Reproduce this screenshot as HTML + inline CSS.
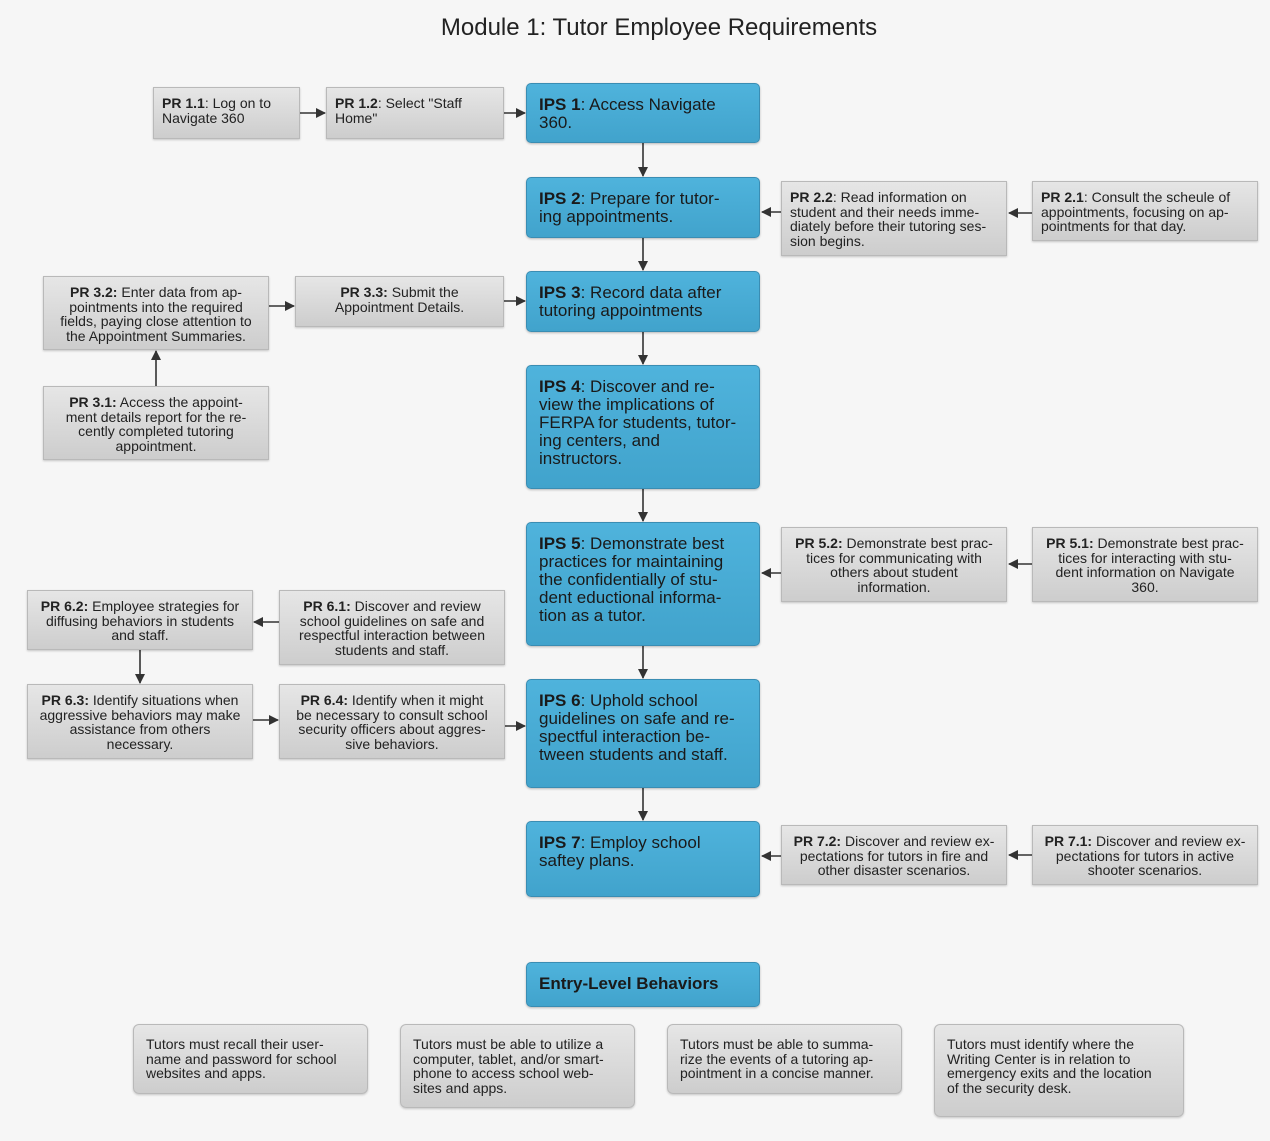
<!DOCTYPE html>
<html><head><meta charset="utf-8"><style>
*{margin:0;padding:0;box-sizing:border-box}
body{width:1270px;height:1141px;background:#f6f6f6;position:relative;font-family:"Liberation Sans",sans-serif;color:#222;overflow:hidden}
.t{position:absolute;left:0;width:1270px;top:14px;text-align:center;font-size:24px;color:#222;padding-left:48px}
.b{position:absolute;background:linear-gradient(#4fb3dc,#41a3cc);border:1px solid #3a8db3;border-radius:5px;font-size:17px;line-height:18px;padding:12px 12px;color:#1a1a1a;box-shadow:0 1px 2px rgba(0,0,0,.25)}
.g{position:absolute;background:linear-gradient(#e6e6e6,#cdcdcd);border:1px solid #b9b9b9;font-size:14px;line-height:14.7px;padding:8px 8px;color:#222;box-shadow:0 1px 2px rgba(0,0,0,.2)}
.c{text-align:center}
.r{border-radius:6px;padding:12px 12px}
svg{position:absolute;left:0;top:0}
</style></head><body>
<div class="t">Module 1: Tutor Employee Requirements</div>
<svg width="1270" height="1141"><defs><marker id="a" markerWidth="10" markerHeight="10" refX="9" refY="5" orient="auto" markerUnits="userSpaceOnUse"><path d="M0,0 L10,5 L0,10z" fill="#333"/></marker></defs>
<g stroke="#333" stroke-width="1.6" marker-end="url(#a)">
<line x1="300" y1="113" x2="325" y2="113"/>
<line x1="504" y1="113" x2="525" y2="113"/>
<line x1="643" y1="143" x2="643" y2="176"/>
<line x1="643" y1="238" x2="643" y2="270"/>
<line x1="643" y1="332" x2="643" y2="364"/>
<line x1="643" y1="489" x2="643" y2="521"/>
<line x1="643" y1="646" x2="643" y2="678"/>
<line x1="643" y1="788" x2="643" y2="820"/>
<line x1="781" y1="212" x2="762" y2="212"/>
<line x1="1032" y1="213" x2="1009" y2="213"/>
<line x1="269" y1="306" x2="294" y2="306"/>
<line x1="504" y1="301" x2="525" y2="301"/>
<line x1="156" y1="386" x2="156" y2="351"/>
<line x1="781" y1="573" x2="762" y2="573"/>
<line x1="1032" y1="564" x2="1009" y2="564"/>
<line x1="279" y1="622" x2="254" y2="622"/>
<line x1="140" y1="650" x2="140" y2="683"/>
<line x1="253" y1="720" x2="278" y2="720"/>
<line x1="505" y1="726" x2="525" y2="726"/>
<line x1="781" y1="856" x2="762" y2="856"/>
<line x1="1032" y1="855" x2="1009" y2="855"/>
</g></svg>
<div class="g" style="left:153px;top:87px;width:147px;height:52px"><b>PR 1.1</b>: Log on to<br>Navigate 360</div>
<div class="g" style="left:326px;top:87px;width:178px;height:52px"><b>PR 1.2</b>: Select "Staff<br>Home"</div>
<div class="b" style="left:526px;top:83px;width:234px;height:60px"><b>IPS 1</b>: Access Navigate<br>360.</div>
<div class="b" style="left:526px;top:177px;width:234px;height:61px"><b>IPS 2</b>: Prepare for tutor-<br>ing appointments.</div>
<div class="g" style="left:781px;top:181px;width:226px;height:75px"><b>PR 2.2</b>: Read information on<br>student and their needs imme-<br>diately before their tutoring ses-<br>sion begins.</div>
<div class="g" style="left:1032px;top:181px;width:226px;height:60px"><b>PR 2.1</b>: Consult the scheule of<br>appointments, focusing on ap-<br>pointments for that day.</div>
<div class="g c" style="left:43px;top:276px;width:226px;height:74px"><b>PR 3.2:</b> Enter data from ap-<br>pointments into the required<br>fields, paying close attention to<br>the Appointment Summaries.</div>
<div class="g c" style="left:295px;top:276px;width:209px;height:51px"><b>PR 3.3:</b> Submit the<br>Appointment Details.</div>
<div class="b" style="left:526px;top:271px;width:234px;height:61px"><b>IPS 3</b>: Record data after<br>tutoring appointments</div>
<div class="g c" style="left:43px;top:386px;width:226px;height:74px"><b>PR 3.1:</b> Access the appoint-<br>ment details report for the re-<br>cently completed tutoring<br>appointment.</div>
<div class="b" style="left:526px;top:365px;width:234px;height:124px"><b>IPS 4</b>: Discover and re-<br>view the implications of<br>FERPA for students, tutor-<br>ing centers, and<br>instructors.</div>
<div class="b" style="left:526px;top:522px;width:234px;height:124px"><b>IPS 5</b>: Demonstrate best<br>practices for maintaining<br>the confidentially of stu-<br>dent eductional informa-<br>tion as a tutor.</div>
<div class="g c" style="left:781px;top:527px;width:226px;height:75px"><b>PR 5.2:</b> Demonstrate best prac-<br>tices for communicating with<br>others about student<br>information.</div>
<div class="g c" style="left:1032px;top:527px;width:226px;height:75px"><b>PR 5.1:</b> Demonstrate best prac-<br>tices for interacting with stu-<br>dent information on Navigate<br>360.</div>
<div class="g c" style="left:27px;top:590px;width:226px;height:60px"><b>PR 6.2:</b> Employee strategies for<br>diffusing behaviors in students<br>and staff.</div>
<div class="g c" style="left:279px;top:590px;width:226px;height:75px"><b>PR 6.1:</b> Discover and review<br>school guidelines on safe and<br>respectful interaction between<br>students and staff.</div>
<div class="g c" style="left:27px;top:684px;width:226px;height:75px"><b>PR 6.3:</b> Identify situations when<br>aggressive behaviors may make<br>assistance from others<br>necessary.</div>
<div class="g c" style="left:279px;top:684px;width:226px;height:75px"><b>PR 6.4:</b> Identify when it might<br>be necessary to consult school<br>security officers about aggres-<br>sive behaviors.</div>
<div class="b" style="left:526px;top:679px;width:234px;height:109px"><b>IPS 6</b>: Uphold school<br>guidelines on safe and re-<br>spectful interaction be-<br>tween students and staff.</div>
<div class="b" style="left:526px;top:821px;width:234px;height:76px"><b>IPS 7</b>: Employ school<br>saftey plans.</div>
<div class="g c" style="left:781px;top:825px;width:226px;height:60px"><b>PR 7.2:</b> Discover and review ex-<br>pectations for tutors in fire and<br>other disaster scenarios.</div>
<div class="g c" style="left:1032px;top:825px;width:226px;height:60px"><b>PR 7.1:</b> Discover and review ex-<br>pectations for tutors in active<br>shooter scenarios.</div>
<div class="b" style="left:526px;top:962px;width:234px;height:45px"><b>Entry-Level Behaviors</b></div>
<div class="g r" style="left:133px;top:1024px;width:235px;height:70px">Tutors must recall their user-<br>name and password for school<br>websites and apps.</div>
<div class="g r" style="left:400px;top:1024px;width:235px;height:84px">Tutors must be able to utilize a<br>computer, tablet, and/or smart-<br>phone to access school web-<br>sites and apps.</div>
<div class="g r" style="left:667px;top:1024px;width:235px;height:70px">Tutors must be able to summa-<br>rize the events of a tutoring ap-<br>pointment in a concise manner.</div>
<div class="g r" style="left:934px;top:1024px;width:250px;height:93px">Tutors must identify where the<br>Writing Center is in relation to<br>emergency exits and the location<br>of the security desk.</div>
</body></html>
